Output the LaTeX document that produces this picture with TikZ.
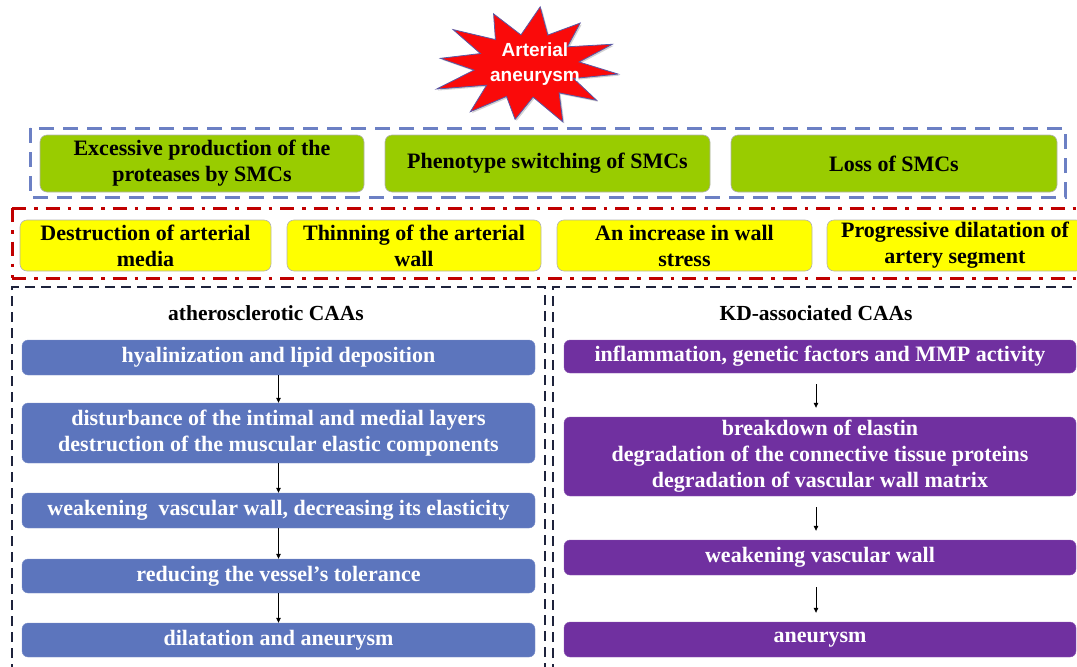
\documentclass[tikz,border=0pt]{standalone}
\usepackage{fontspec}
\setmainfont{Liberation Serif}
\newfontfamily\arialfont{Liberation Sans}
\usetikzlibrary{arrows.meta,shadows}
\definecolor{gfill}{RGB}{153,204,0}
\definecolor{yfill}{RGB}{255,255,0}
\definecolor{bfill}{RGB}{92,117,189}
\definecolor{pfill}{RGB}{112,48,160}
\definecolor{bdash}{RGB}{108,128,196}
\definecolor{rdash}{RGB}{192,0,0}
\definecolor{ndash}{RGB}{30,35,60}
\definecolor{starred}{RGB}{250,10,10}
\begin{document}
\begin{tikzpicture}[x=1pt,y=-1pt,
  lbl/.style={font=\bfseries\fontsize{22}{26}\selectfont, align=center, inner sep=0pt},
  gbox/.style={lbl, rounded corners=7pt, draw=gray!60, line width=0.6pt, fill=gfill},
  ybox/.style={lbl, rounded corners=7pt, draw=gray!60, line width=0.6pt, fill=yfill},
  bbox/.style={lbl, rounded corners=6pt, fill=bfill, text=white, minimum width=513, draw=bfill!80!white, line width=0.4pt},
  pbox/.style={lbl, rounded corners=6pt, fill=pfill, text=white, minimum width=512, draw=pfill!80!white, line width=0.4pt},
  ttl/.style={font=\bfseries\fontsize{21.5}{24}\selectfont, inner sep=0pt},
  arr/.style={-{Triangle[length=5pt,width=4.5pt]}, line width=0.8pt, black},
  bluedash/.style={draw=bdash, line width=3pt, dash pattern=on 15pt off 9pt},
  reddash/.style={draw=rdash, line width=3pt, dash pattern=on 14pt off 8pt on 3.5pt off 8pt},
  navydash/.style={draw=ndash, line width=2.8pt, dash pattern=on 10pt off 6pt}
]
\useasboundingbox (0,0) rectangle (1077,667);

% star
\foreach \i/\r in {0/1.00,1/0.55,2/0.96,3/0.58,4/1.04,5/0.54,6/0.93,7/0.57,8/1.00,9/0.55,10/1.06,11/0.58,12/0.95,13/0.55,14/1.02,15/0.57,16/0.97,17/0.54,18/1.03,19/0.58,20/0.94,21/0.55,22/1.00,23/0.57}
  \coordinate (s\i) at ({527+92*\r*cos(\i*15+8)},{66+58*\r*sin(\i*15+8)});
\draw[fill=starred, draw=gray!70!blue, line width=0.8pt, drop shadow={shadow xshift=1.5pt, shadow yshift=-1.5pt, opacity=0.35}]
  (s0) \foreach \i in {1,...,23}{ -- (s\i)} -- cycle;
\node[font=\arialfont\bfseries\fontsize{19}{25}\selectfont, text=white, align=center, inner sep=0pt] (star) at (535,64) {Arterial\\aneurysm};

% blue dashed group
\draw[bluedash] (30,128) rectangle (1065,197);
\node[gbox, minimum width=324, minimum height=57] (g1) at (202,163.5) {Excessive production of the\\proteases by SMCs};
\node[gbox, minimum width=325, minimum height=57] (g2) at (547.5,163.5) {Phenotype switching of SMCs};
\node[gbox, minimum width=326, minimum height=57] (g3) at (894,163.5) {Loss of SMCs};

% red dash-dot group
\draw[reddash] (12,208) -- (1090,208);
\draw[reddash] (12,278) -- (1090,278);
\draw[reddash] (12,208) -- (12,278);
\node[ybox, minimum width=251, minimum height=51] (y1) at (145.5,245.5) {Destruction of arterial\\media};
\node[ybox, minimum width=254, minimum height=51] (y2) at (414,245.5) {Thinning of the arterial\\wall};
\node[ybox, minimum width=255, minimum height=51] (y3) at (684.5,245.5) {An increase in wall\\stress};
\node[ybox, minimum width=256, minimum height=51] (y4) at (955,245.5) {Progressive dilatation of\\artery segment};

% lower dashed groups
\draw[navydash] (12,690) -- (12,287) -- (545,287) -- (545,690);
\draw[navydash] (553,690) -- (553,287) -- (1090,287);

% left column
\node[ttl] (lt) at (266,313) {atherosclerotic CAAs};
\node[bbox, minimum height=35] (b1) at (278.5,357.5) {hyalinization and lipid deposition};
\node[bbox, minimum height=60] (b2) at (278.5,433) {disturbance of the intimal and medial layers\\destruction of the muscular elastic components};
\node[bbox, minimum height=35] (b3) at (278.5,510.5) {weakening\ \ vascular wall, decreasing its elasticity};
\node[bbox, minimum height=34] (b4) at (278.5,576) {reducing the vessel’s tolerance};
\node[bbox, minimum height=34] (b5) at (278.5,640) {dilatation and aneurysm};
\draw[arr] (b1) -- (b2);
\draw[arr] (b2) -- (b3);
\draw[arr] (b3) -- (b4);
\draw[arr] (b4) -- (b5);

% right column
\node[ttl] (rt) at (816,313) {KD-associated CAAs};
\node[pbox, minimum height=33] (p1) at (820,356.5) {inflammation, genetic factors and MMP activity};
\node[pbox, minimum height=79] (p2) at (820,456.5) {breakdown of elastin\\degradation of the connective tissue proteins\\degradation of vascular wall matrix};
\node[pbox, minimum height=35] (p3) at (820,557.5) {weakening vascular wall};
\node[pbox, minimum height=35] (p4) at (820,639.5) {aneurysm};
\draw[arr, shorten <=11pt, shorten >=9pt] (p1.south -| rt) -- (p2.north -| rt);
\draw[arr, shorten <=11pt, shorten >=9pt] (p2.south -| rt) -- (p3.north -| rt);
\draw[arr, shorten <=12pt, shorten >=9pt] (p3.south -| rt) -- (p4.north -| rt);
\end{tikzpicture}
\end{document}
